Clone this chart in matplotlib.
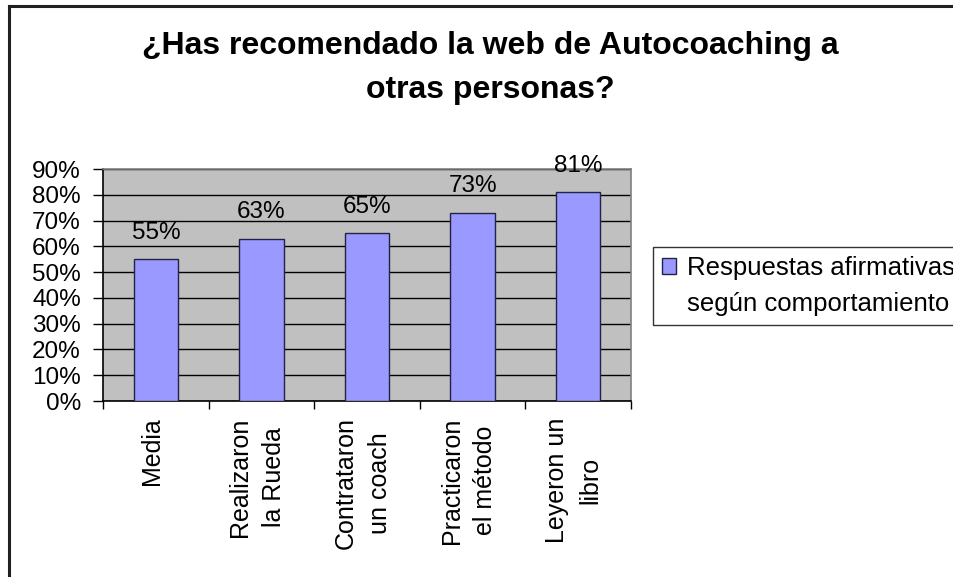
import matplotlib
matplotlib.use("Agg")
import matplotlib.pyplot as plt
from matplotlib.lines import Line2D
from matplotlib.patches import Rectangle
from matplotlib.ticker import FuncFormatter

plt.rcParams['font.family'] = ['Liberation Sans', 'DejaVu Sans']

categorias = ["Media", "Realizaron\nla Rueda", "Contrataron\nun coach",
              "Practicaron\nel método", "Leyeron un\nlibro"]
valores = [55, 63, 65, 73, 81]
etiquetas = ["55%", "63%", "65%", "73%", "81%"]
serie = "Respuestas afirmativas\nsegún comportamiento"
titulo = "¿Has recomendado la web de Autocoaching a\notras personas?"

fig = plt.figure(figsize=(9.54, 5.77), dpi=100)
ax = fig.add_axes([0.108, 0.305, 0.5535, 0.402])
ax.set_facecolor('#C0C0C0')

x = range(len(categorias))
barras = ax.bar(x, valores, width=0.42, color='#9999FF', edgecolor='#222244',
                linewidth=1, label=serie, zorder=3)

for xi, v, t in zip(x, valores, etiquetas):
    ax.annotate(t, (xi, v), xytext=(0, 19), textcoords='offset points',
                ha='center', va='center', fontsize=17.5, zorder=4)

ax.set_xlim(-0.5, len(categorias) - 0.5)
ax.set_ylim(0, 90)
ax.set_yticks(range(0, 91, 10))
ax.yaxis.set_major_formatter(FuncFormatter(lambda v, p: f"{int(v)}%"))
ax.yaxis.grid(True, color='black', linewidth=1, zorder=1)
ax.set_axisbelow(True)

ax.set_xticks([i + 0.5 for i in range(-1, len(categorias))])
ax.set_xticklabels([])
ax.tick_params(axis='x', direction='out', length=6, width=1, color='black')
ax.tick_params(axis='y', direction='out', length=7, width=1, color='black',
               labelsize=17.5, pad=9)
for i, c in enumerate(categorias):
    ax.text(i - 0.04, -0.07, c, transform=ax.get_xaxis_transform(), rotation=90,
            ha='center', va='top', multialignment='center', fontsize=18,
            linespacing=1.5)

ax.spines['left'].set_color('black')
ax.spines['bottom'].set_color('black')
ax.spines['top'].set_color('#808080')
ax.spines['right'].set_color('#808080')
for s in ax.spines.values():
    s.set_linewidth(1.2)

# leyenda: el cuadro va junto a la primera línea del texto
lineas = serie.split("\n")
vacio = Rectangle((0, 0), 1, 1, fill=False, edgecolor='none', linewidth=0)
leg = fig.legend(handles=[barras, vacio], labels=lineas, loc='upper left',
                 bbox_to_anchor=(0.684, 0.572), fontsize=18.5, frameon=True,
                 fancybox=False, handlelength=0.55, handleheight=0.55,
                 handletextpad=0.45, borderpad=0.35, borderaxespad=0,
                 labelspacing=0.45)
leg.get_frame().set_edgecolor('black')
leg.get_frame().set_linewidth(1)

fig.text(0.514, 0.882, titulo, ha='center', va='center', fontsize=23,
         fontweight='bold', linespacing=1.6)

fig.add_artist(Line2D([0.009, 0.009], [0, 0.99], color='#202020', linewidth=2.2))
fig.add_artist(Line2D([0.009, 1], [0.99, 0.99], color='#202020', linewidth=2.2))

fig.savefig("out.png", dpi=100)
